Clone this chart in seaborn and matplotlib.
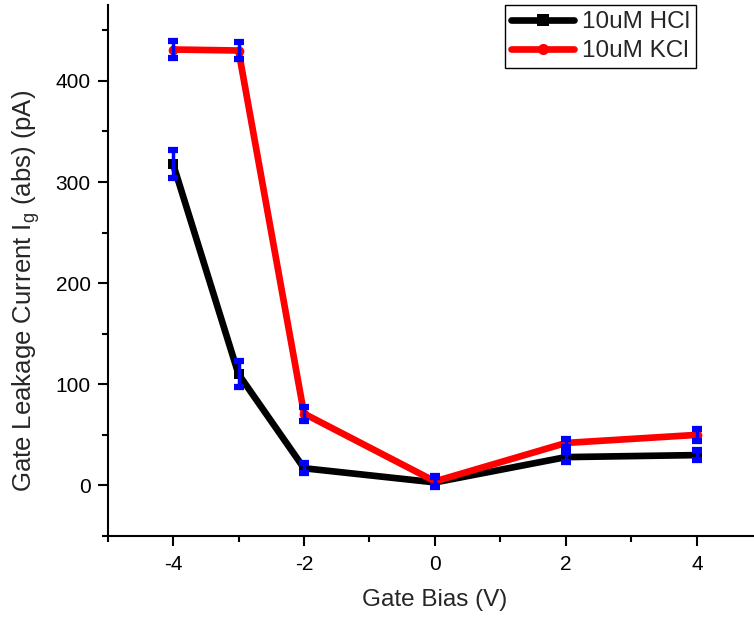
import numpy as np
import pandas as pd
import matplotlib
matplotlib.use("Agg")
import matplotlib.pyplot as plt
from matplotlib.lines import Line2D
from matplotlib.ticker import MultipleLocator
import seaborn as sns

# ---- data ----
bias = [-4, -3, -2, 0, 2, 4]
hcl = [318, 110, 17, 3, 28, 30]
hcl_err = [14, 13, 5, 5, 5, 5]
kcl = [431, 430, 71, 4, 42, 50]
kcl_err = [8, 8, 7, 5, 4, 6]
series_names = ["10uM HCl", "10uM KCl"]
series_colors = {"10uM HCl": "#000000", "10uM KCl": "#FF0000"}
series_markers = {"10uM HCl": "s", "10uM KCl": "o"}
err_color = "#0000FF"

df = pd.DataFrame({
    "bias": bias * 2,
    "current": hcl + kcl,
    "series": [series_names[0]] * len(bias) + [series_names[1]] * len(bias),
})

sns.set_style("ticks")
plt.rcParams["font.family"] = ["Liberation Sans", "DejaVu Sans"]
plt.rcParams["mathtext.fontset"] = "custom"
plt.rcParams["mathtext.rm"] = "Liberation Sans"
plt.rcParams["mathtext.it"] = "Liberation Sans"
plt.rcParams["axes.unicode_minus"] = False

fig = plt.figure(figsize=(7.54, 6.17), dpi=100)
ax = fig.add_axes([107.5 / 754, 81 / 617, 655 / 754, 531 / 617])

for name in series_names:
    sub = df[df["series"] == name]
    sns.lineplot(data=sub, x="bias", y="current", color=series_colors[name],
                 marker=series_markers[name], markersize=7, markeredgewidth=0,
                 linewidth=4.8, ax=ax, legend=False, zorder=3, errorbar=None)

ax.errorbar(bias, hcl, yerr=hcl_err, fmt="none", ecolor=err_color,
            elinewidth=2.5, capsize=3.8, capthick=4.5, zorder=5)
ax.errorbar(bias, kcl, yerr=kcl_err, fmt="none", ecolor=err_color,
            elinewidth=2.5, capsize=3.8, capthick=4.5, zorder=5)

ax.set_xlim(-5, 5)
ax.set_ylim(-50, 475)
ax.xaxis.set_major_locator(MultipleLocator(2))
ax.xaxis.set_minor_locator(MultipleLocator(1))
ax.yaxis.set_major_locator(MultipleLocator(100))
ax.yaxis.set_minor_locator(MultipleLocator(50))
ax.set_xticks([-4, -2, 0, 2, 4])

for s in ["top", "right"]:
    ax.spines[s].set_visible(False)
for s in ["left", "bottom"]:
    ax.spines[s].set_linewidth(1.5)
    ax.spines[s].set_color("black")

ax.tick_params(axis="both", which="major", direction="out", length=7, width=1.5,
               labelsize=15, colors="black")
ax.tick_params(axis="x", which="major", pad=7)
ax.tick_params(axis="y", which="major", pad=5)
ax.tick_params(axis="both", which="minor", direction="out", length=4, width=1.5,
               colors="black")

ax.set_xlabel("Gate Bias (V)", fontsize=17.5)
ax.set_ylabel("Gate Leakage Current I$_\\mathrm{g}$ (abs) (pA)", fontsize=18.5)
ax.xaxis.set_label_coords(0.5, -0.1)
ax.yaxis.set_label_coords(-0.1, 0.461)

handles = [
    Line2D([], [], color=series_colors[n], marker=series_markers[n], linewidth=4.8,
           markersize=8, markeredgewidth=0)
    for n in series_names
]
leg = ax.legend(handles, series_names, loc="upper right", bbox_to_anchor=(0.898, 1.0),
                borderaxespad=0, fontsize=17.5, handlelength=2.6, handletextpad=0.3,
                labelspacing=0.3, borderpad=0.25, frameon=True, fancybox=False,
                framealpha=1)
leg.get_frame().set_edgecolor("black")
leg.get_frame().set_linewidth(1.0)

fig.savefig("out.png", dpi=100)
